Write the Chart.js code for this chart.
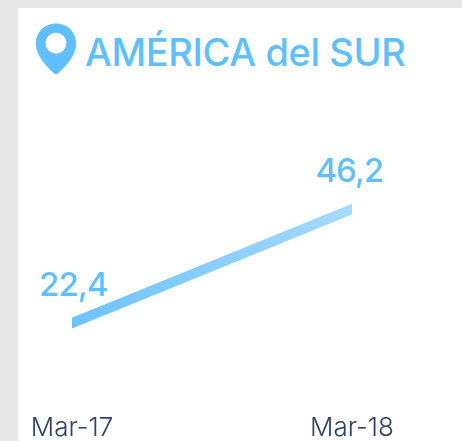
<!DOCTYPE html>
<html lang="es">
<head>
<meta charset="utf-8">
<script src="https://cdn.jsdelivr.net/npm/chart.js@4"></script>
<style>
html,body{margin:0;padding:0;width:462px;height:441px;overflow:hidden;background:#e8e8e8;}
#card{position:absolute;left:18px;top:8px;width:444px;height:433px;background:#fff;}
#wrap{position:absolute;left:0;top:0;width:462px;height:441px;overflow:hidden;}
#icon{position:absolute;left:35px;top:23px;width:42px;height:52px;}
#title{position:absolute;left:85px;top:28px;margin:0;font:500 38px/48px Inter,sans-serif;letter-spacing:-0.4px;color:#5fbfff;white-space:nowrap;}
</style>
</head>
<body>
<div id="card"></div>
<svg id="icon" viewBox="0 0 42 52"><path fill-rule="evenodd" fill="#5fbfff" d="M21 0.5C9.5 0.5 0.8 9.3 0.8 20.5C0.8 33 12 44 19 50.5C20.2 51.6 21.8 51.6 23 50.5C30 44 41.2 33 41.2 20.5C41.2 9.3 32.5 0.5 21 0.5ZM21 9.7A10.5 10.5 0 1 1 21 30.7A10.5 10.5 0 1 1 21 9.7Z"/></svg>
<h1 id="title">AMÉRICA del SUR</h1>
<div id="wrap"><canvas id="c" width="462" height="447"></canvas></div>
<script>
const categories = ["Mar-17", "Mar-18"];
const values = [22.4, 46.2];
const valueLabels = ["22,4", "46,2"];

const labelPlugin = {
  id: "valueLabels",
  afterDatasetsDraw(chart) {
    const ctx = chart.ctx;
    ctx.save();
    ctx.font = "550 33px Inter, sans-serif";
    ctx.letterSpacing = "-1px";
    ctx.fillStyle = "#5fbfff";
    ctx.textAlign = "center";
    ctx.textBaseline = "alphabetic";
    chart.getDatasetMeta(0).data.forEach((pt, i) => {
      ctx.fillText(valueLabels[i], pt.x + (i === 0 ? 1.5 : -2.5), pt.y - 27);
    });
    ctx.restore();
  }
};

new Chart(document.getElementById("c"), {
  type: "line",
  data: {
    labels: categories,
    datasets: [{
      data: values,
      borderWidth: 10,
      borderCapStyle: "square",
      clip: 0,
      tension: 0,
      pointRadius: 0,
      borderColor(ctx) {
        const a = ctx.chart.chartArea;
        if (!a) return "#7cc8ff";
        const g = ctx.chart.ctx.createLinearGradient(a.left, 0, a.right, 0);
        g.addColorStop(0, "#6cc3ff");
        g.addColorStop(1, "#a6d9ff");
        return g;
      }
    }]
  },
  options: {
    responsive: false,
    animation: false,
    layout: { padding: { left: 72, right: 110, top: 143, bottom: 0 } },
    plugins: { legend: { display: false }, tooltip: { enabled: false }, title: { display: false } },
    scales: {
      x: {
        offset: false,
        grid: { display: false },
        border: { display: false },
        ticks: { color: "#2f4468", font: { family: "Inter, sans-serif", size: 26, weight: "300" }, maxRotation: 0, autoSkip: false, padding: 3, align: "center" }
      },
      y: { display: false, min: 6, max: 60 }
    }
  },
  plugins: [labelPlugin]
});
</script>
</body>
</html>
